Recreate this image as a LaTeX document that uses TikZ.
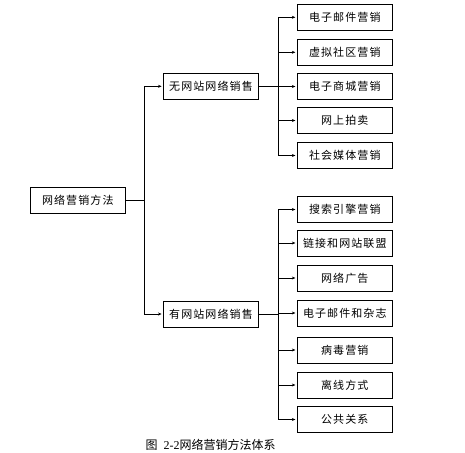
\documentclass[tikz,border=0pt]{standalone}
\usepackage{fontspec}
\newfontfamily\cjk[LetterSpace=10]{Noto Sans CJK SC}
\newfontfamily\capcjk{Noto Sans CJK SC}
\newfontfamily\capnum{Liberation Serif}
\usetikzlibrary{arrows.meta}
\begin{document}
\begin{tikzpicture}[x=1pt,y=-1pt,
  box/.style={draw,line width=0.9pt,minimum width=95pt,minimum height=26pt,inner sep=0pt,font=\cjk\fontsize{11}{12}\selectfont},
  conn/.style={line width=0.9pt},
  arr/.style={conn,-{Stealth[length=3.5pt,width=3pt]},shorten >=1.5pt}]
\useasboundingbox (0,0) rectangle (465,452);
\node[box] (root) at (77.8,200.3) {网络营销方法};
\node[box] (m1) at (211,86.3) {无网站网络销售};
\node[box] (m2) at (211,314) {有网站网络销售};
\node[box] (a1) at (344.8,17.3) {电子邮件营销};
\node[box] (a2) at (344.8,52.3) {虚拟社区营销};
\node[box] (a3) at (344.8,86.5) {电子商城营销};
\node[box] (a4) at (344.8,120.5) {网上拍卖};
\node[box] (a5) at (344.8,155.5) {社会媒体营销};
\node[box] (b1) at (344.8,209.5) {搜索引擎营销};
\node[box] (b2) at (344.8,243) {链接和网站联盟};
\node[box] (b3) at (344.8,278) {网络广告};
\node[box] (b4) at (344.8,313) {电子邮件和杂志};
\node[box] (b5) at (344.8,350) {病毒营销};
\node[box] (b6) at (344.8,385) {离线方式};
\node[box] (b7) at (344.8,419.5) {公共关系};
\coordinate (j0) at (144.3,200.3);
\coordinate (j1) at (278.3,86.3);
\coordinate (j2) at (278.3,314);
\draw[conn] (root.east) -- (j0);
\draw[arr] (j0) |- (m1.west);
\draw[arr] (j0) |- (m2.west);
\draw[conn] (m1.east) -- (j1);
\draw[conn] (m2.east) -- (j2);
\foreach \n in {a1,a2,a3,a4,a5} \draw[arr] (j1) |- (\n.west);
\foreach \n in {b1,b2,b3,b4,b5,b6,b7} \draw[arr] (j2) |- (\n.west);
\node[anchor=west,inner sep=0pt] (cap) at (145.5,445) {\capcjk\fontsize{12}{14}\selectfont 图\hspace{6pt}{\capnum 2-2}网络营销方法体系};
\end{tikzpicture}
\end{document}
